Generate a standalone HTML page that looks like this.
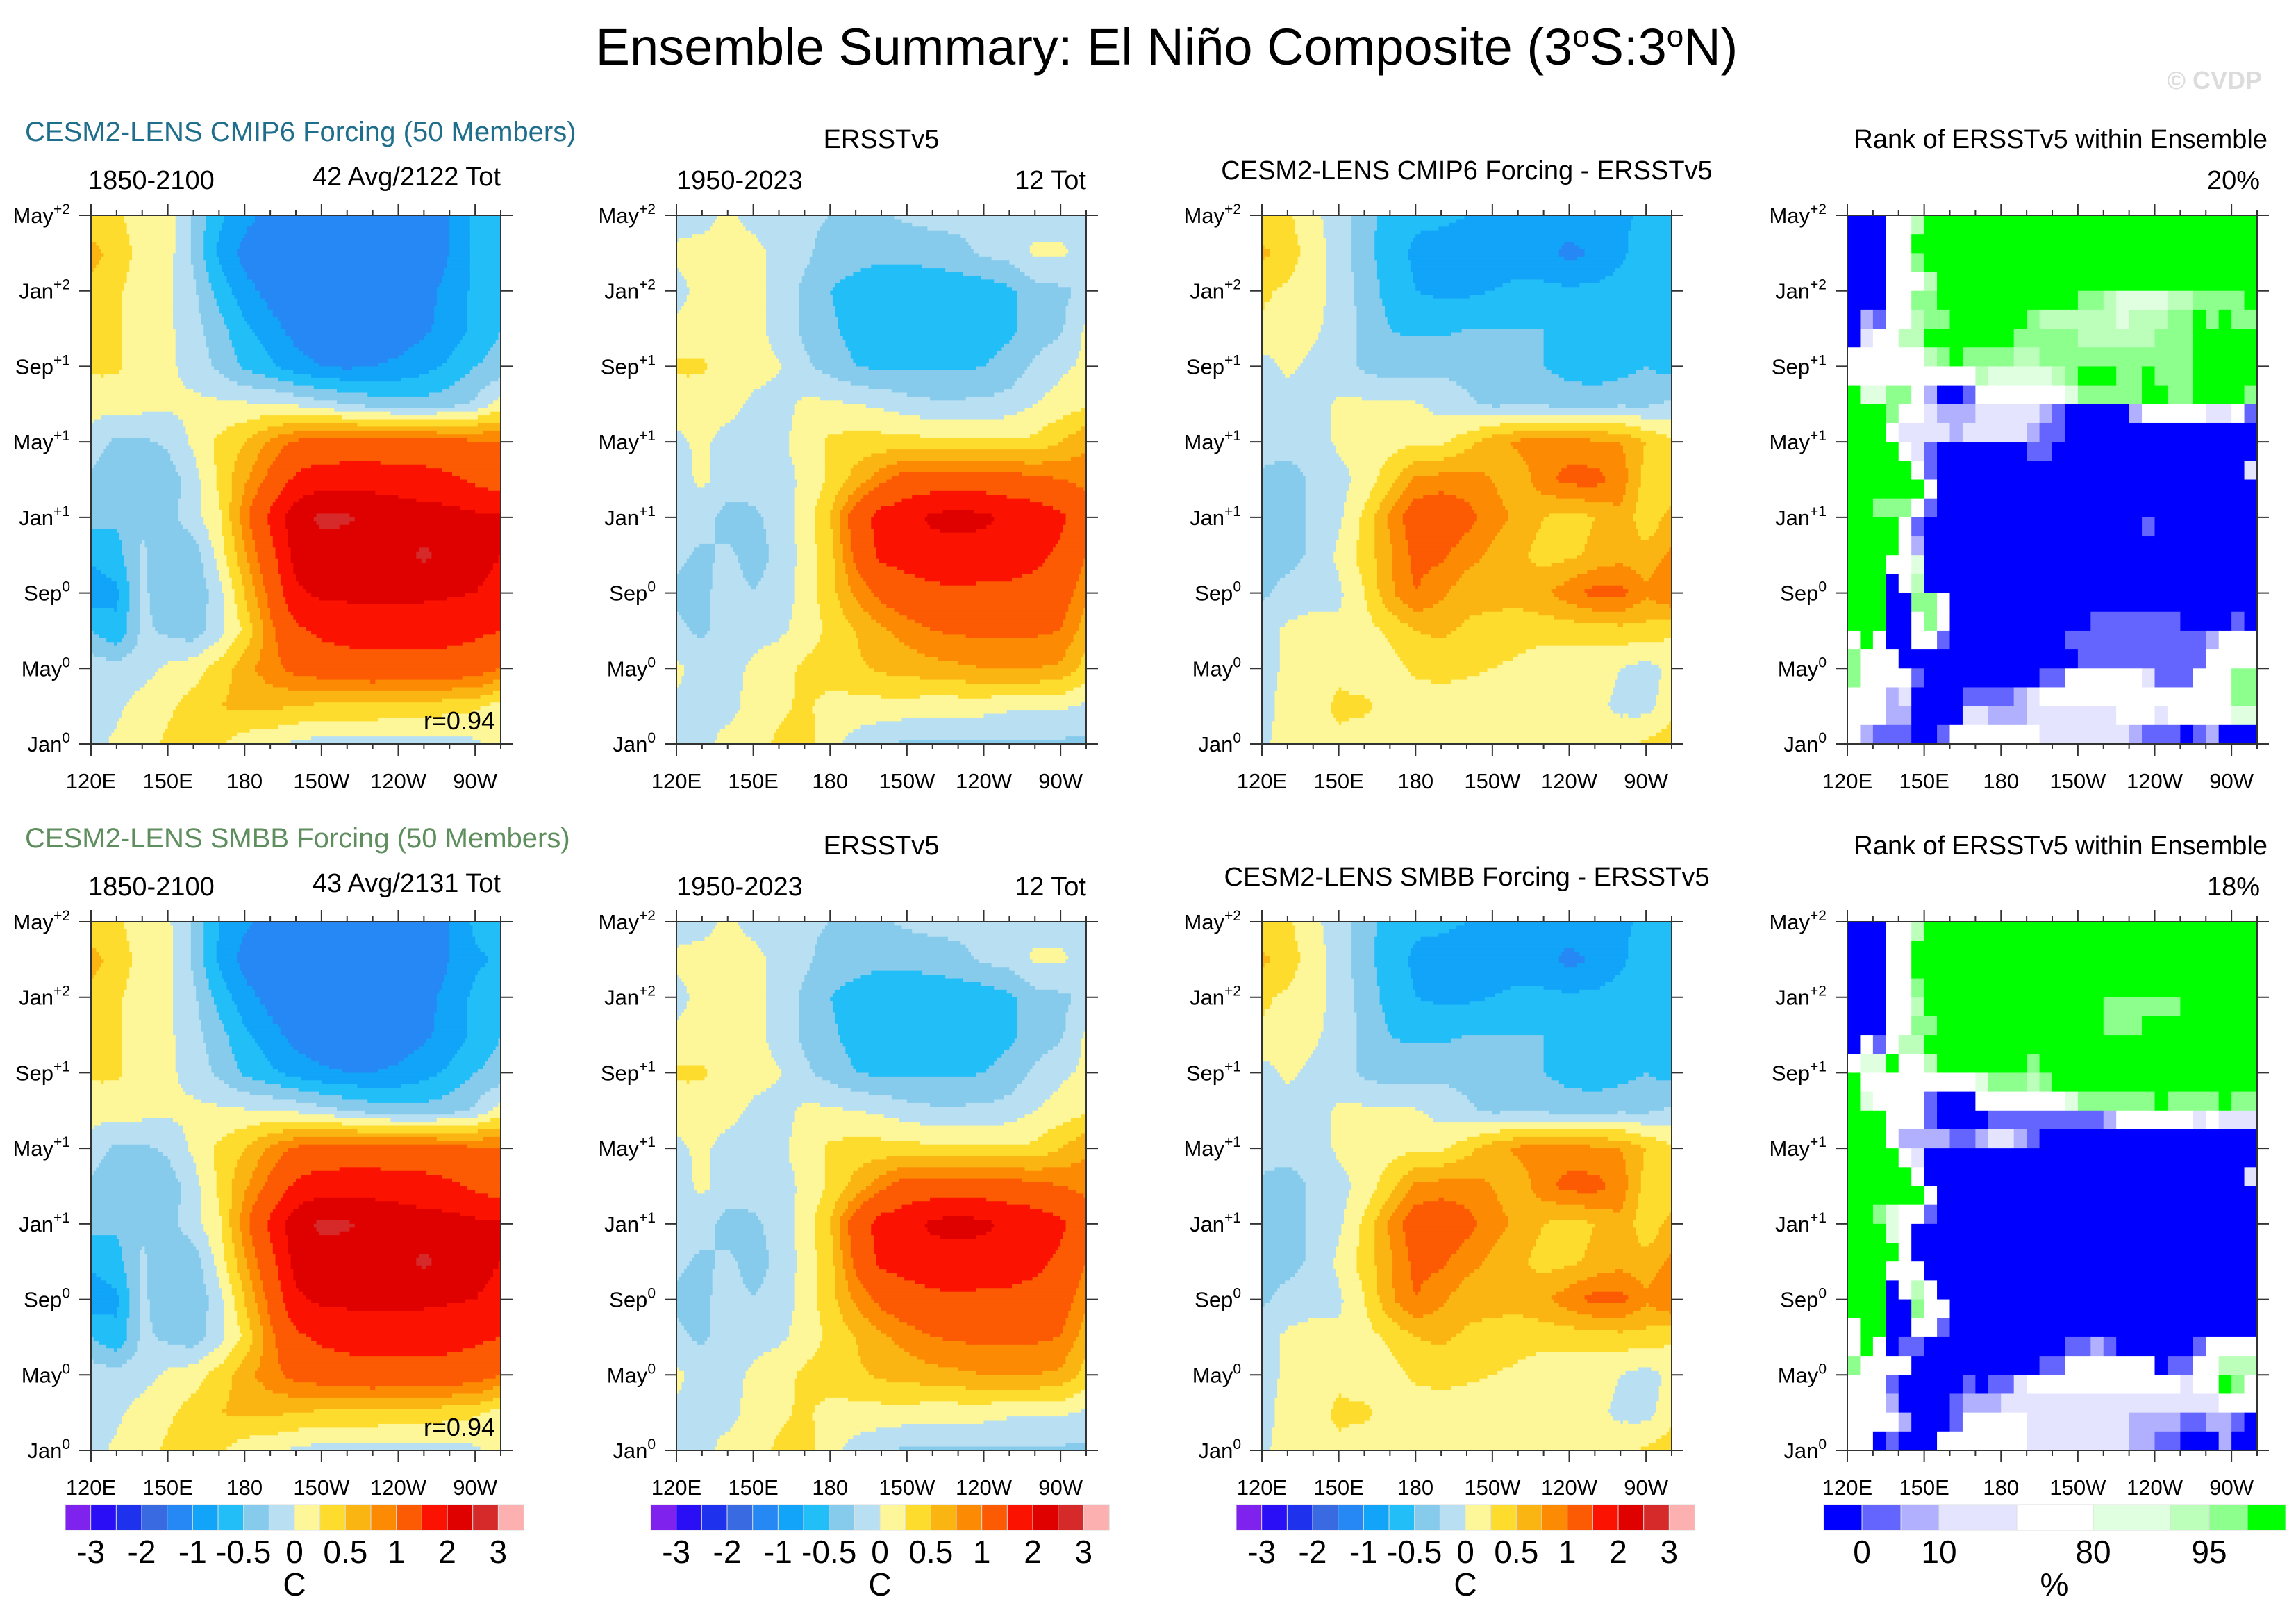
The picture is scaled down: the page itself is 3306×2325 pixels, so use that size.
<!DOCTYPE html>
<html><head><meta charset="utf-8"><title>Ensemble Summary: El Niño Composite</title>
<style>
html,body{margin:0;padding:0;background:#fff;}
svg{display:block;font-family:"Liberation Sans",Arial,sans-serif;}
</style></head>
<body>
<svg id="fig" xmlns="http://www.w3.org/2000/svg" width="3306" height="2325" viewBox="0 0 3306 2325">
<rect x="0" y="0" width="3306" height="2325" fill="#fff"/>
<text x="1680" y="93" font-size="74" text-anchor="middle">Ensemble Summary: El Niño Composite (3<tspan dy="-26" font-size="44">o</tspan><tspan dy="26">S:3</tspan><tspan dy="-26" font-size="44">o</tspan><tspan dy="26">N)</tspan></text>
<text x="3257" y="128" font-size="36" text-anchor="end" fill="#dcdcdc" font-weight="bold">© CVDP</text>
<g id="content"></g>
</svg>
<script>
// ---------- data ----------
const lons = [120,130,140,150,160,170,180,190,200,210,220,230,240,250,260,270,280];
const tRows = [28,26,24,22,20,18,16,14,12,10,8,6,4,2,0];
const levels = [-3,-2.5,-2,-1.5,-1,-0.75,-0.5,-0.25,0,0.25,0.5,0.75,1,1.5,2,2.5,3];
const levelLabels = ["-3","","-2","","-1","","-0.5","","0","","0.5","","1","","2","","3"];
const levelColors = ["#7F22EE","#2A0EF6","#1E32EE","#3A6AE2","#2688F4","#11A4F8","#22BEF8","#86CAEC","#B8E0F2","#FDF799","#FEDC2E","#FBB513","#FC8A03","#FC5A03","#FC1200","#DF0000","#D62A2A","#FCB0B0"];
const xTickLabels = ["120E","150E","180","150W","120W","90W"];
const xTickLons = [120,150,180,210,240,270];
const yTickMonths = [0,4,8,12,16,20,24,28];
const yTickNames = ["Jan","May","Sep","Jan","May","Sep","Jan","May"];
const yTickSups = ["0","0","0","+1","+1","+1","+2","+2"];

const cmip6Mean = [
[0.3,0.3,0.1,0.1,-0.3,-0.7,-0.9,-1.1,-1.3,-1.3,-1.3,-1.3,-1.3,-1.25,-1.0,-0.7,-0.6],
[0.6,0.4,0.15,0.1,-0.3,-0.8,-1.1,-1.3,-1.4,-1.4,-1.4,-1.4,-1.4,-1.3,-1.0,-0.7,-0.7],
[0.4,0.3,0.1,0.05,-0.2,-0.6,-0.9,-1.1,-1.3,-1.4,-1.4,-1.4,-1.3,-1.1,-0.9,-0.7,-0.6],
[0.4,0.3,0.1,0.05,-0.15,-0.4,-0.7,-0.9,-1.1,-1.2,-1.25,-1.2,-1.15,-1.05,-0.9,-0.7,-0.5],
[0.3,0.3,0.1,0.05,-0.1,-0.3,-0.55,-0.7,-0.9,-1.0,-1.05,-1.0,-0.95,-0.85,-0.7,-0.5,-0.4],
[0.1,0.1,0.1,0.05,0.05,0.05,0.03,0.02,-0.05,-0.15,-0.25,-0.35,-0.4,-0.4,-0.35,-0.2,0.1],
[-0.1,-0.3,-0.3,-0.2,0.05,0.3,0.5,0.8,1.05,1.1,1.15,1.15,1.15,1.15,1.1,1.05,1.0],
[-0.3,-0.45,-0.4,-0.4,-0.1,0.3,0.7,1.1,1.6,1.8,1.8,1.8,1.75,1.7,1.6,1.4,1.2],
[-0.4,-0.45,-0.3,-0.35,-0.1,0.2,0.9,1.6,2.3,2.6,2.55,2.4,2.3,2.2,2.2,2.1,2.1],
[-0.7,-0.6,-0.2,-0.45,-0.4,0.1,0.7,1.3,2.2,2.3,2.3,2.2,2.3,2.6,2.3,2.1,2.0],
[-0.9,-0.8,-0.2,-0.4,-0.45,-0.1,0.5,1.1,1.9,2.1,2.1,2.1,2.1,2.1,2.05,2.0,1.9],
[-0.5,-0.7,-0.2,-0.3,-0.4,-0.1,0.3,0.9,1.4,1.6,1.7,1.7,1.7,1.7,1.7,1.6,1.5],
[-0.1,-0.15,-0.1,0.05,0.15,0.35,0.65,0.9,1.1,1.2,1.25,1.3,1.3,1.3,1.25,1.2,1.0],
[-0.1,-0.05,0.1,0.2,0.35,0.5,0.55,0.55,0.5,0.45,0.45,0.45,0.4,0.4,0.35,0.3,0.15],
[-0.1,0.05,0.15,0.3,0.4,0.3,0.1,0.05,-0.05,-0.1,-0.1,-0.1,-0.1,-0.1,-0.1,-0.05,0.1]
];
const ersstComp = [
[-0.1,-0.1,0.05,-0.1,-0.15,-0.2,-0.25,-0.3,-0.28,-0.2,-0.15,-0.15,-0.1,-0.1,-0.1,-0.1,-0.1],
[0.05,0.1,0.15,0.1,-0.1,-0.2,-0.35,-0.4,-0.45,-0.45,-0.4,-0.35,-0.2,-0.15,0.05,0.05,-0.1],
[-0.1,0.1,0.1,0.1,-0.1,-0.3,-0.5,-0.6,-0.65,-0.65,-0.65,-0.65,-0.65,-0.55,-0.35,-0.3,-0.2],
[0.05,0.1,0.1,0.1,-0.1,-0.3,-0.45,-0.6,-0.7,-0.75,-0.7,-0.7,-0.65,-0.55,-0.4,-0.3,0.05],
[0.3,0.3,0.1,0.1,0.02,-0.2,-0.35,-0.5,-0.55,-0.55,-0.55,-0.55,-0.5,-0.4,-0.2,-0.05,0.05],
[0.1,0.1,0.1,-0.05,-0.1,0.05,0.05,0.0,-0.05,-0.15,-0.2,-0.2,-0.2,-0.15,0.0,0.1,0.2],
[-0.05,0.05,-0.1,-0.1,-0.05,0.1,0.3,0.35,0.35,0.35,0.3,0.3,0.3,0.3,0.3,0.5,0.7],
[-0.1,0.05,-0.1,-0.15,-0.1,0.05,0.3,0.6,0.9,1.2,1.2,1.2,1.2,1.15,1.1,1.0,0.9],
[-0.1,-0.15,-0.35,-0.3,-0.15,0.1,0.5,1.2,1.7,1.8,2.1,2.2,2.1,1.9,1.8,1.6,1.2],
[-0.2,-0.3,-0.2,-0.35,-0.2,0.1,0.4,1.1,1.6,1.7,1.75,1.75,1.75,1.7,1.65,1.4,1.0],
[-0.3,-0.3,-0.15,-0.25,-0.15,0.1,0.4,0.8,1.1,1.3,1.4,1.45,1.4,1.4,1.3,1.2,0.8],
[-0.2,-0.3,-0.1,-0.1,-0.05,0.1,0.3,0.5,0.7,0.85,1.0,1.05,1.05,1.05,1.05,1.0,0.6],
[0.05,-0.1,-0.1,0.05,0.15,0.3,0.4,0.45,0.55,0.6,0.65,0.7,0.75,0.75,0.75,0.7,0.4],
[-0.05,-0.05,-0.1,0.1,0.2,0.3,0.15,0.15,0.15,0.15,0.1,0.1,0.1,0.05,0.05,0.05,-0.05],
[-0.1,-0.1,0.1,0.15,0.3,0.35,0.1,-0.1,-0.2,-0.3,-0.3,-0.3,-0.3,-0.3,-0.3,-0.3,-0.3]
];
const cmip6Diff = [
[0.3,0.3,0.05,-0.1,-0.4,-0.6,-0.7,-0.7,-0.75,-0.8,-0.8,-0.8,-0.8,-0.8,-0.8,-0.7,-0.6],
[0.55,0.4,0.1,-0.1,-0.4,-0.65,-0.8,-0.85,-0.85,-0.85,-0.85,-0.9,-1.1,-0.95,-0.8,-0.6,-0.5],
[0.3,0.2,0.1,-0.1,-0.35,-0.6,-0.75,-0.8,-0.8,-0.75,-0.7,-0.7,-0.7,-0.7,-0.65,-0.6,-0.6],
[0.2,0.1,0.05,-0.1,-0.3,-0.5,-0.55,-0.55,-0.5,-0.5,-0.5,-0.5,-0.6,-0.6,-0.6,-0.5,-0.7],
[-0.1,0.05,-0.05,-0.15,-0.3,-0.4,-0.35,-0.3,-0.35,-0.45,-0.45,-0.5,-0.6,-0.65,-0.6,-0.5,-0.6],
[-0.1,-0.1,-0.15,0.05,0.05,0.05,0.02,-0.1,-0.2,-0.3,-0.3,-0.3,-0.35,-0.35,-0.3,-0.3,-0.2],
[-0.15,-0.1,-0.15,0.05,0.1,0.15,0.2,0.2,0.4,0.65,0.8,0.85,0.85,0.8,0.75,0.5,0.3],
[-0.3,-0.4,-0.2,-0.1,0.1,0.4,0.8,0.85,0.85,0.75,0.6,0.9,1.1,1.1,0.9,0.4,0.3],
[-0.3,-0.35,-0.2,-0.05,0.3,0.8,1.2,1.3,1.1,0.85,0.7,0.5,0.4,0.5,0.7,0.3,0.6],
[-0.4,-0.35,-0.2,0.05,0.35,0.7,1.1,1.05,0.85,0.7,0.55,0.4,0.45,0.55,0.65,0.6,0.8],
[-0.3,-0.15,-0.1,-0.05,0.25,0.7,1.0,0.8,0.6,0.6,0.6,0.7,0.9,1.1,1.1,0.8,1.0],
[-0.1,0.05,0.1,0.05,0.15,0.3,0.5,0.55,0.45,0.4,0.35,0.35,0.35,0.35,0.4,0.4,0.3],
[-0.1,0.05,0.1,0.2,0.1,0.15,0.3,0.35,0.3,0.25,0.2,0.1,0.1,0.1,0.0,-0.1,0.05],
[-0.1,0.1,0.15,0.3,0.3,0.15,0.1,0.1,0.1,0.1,0.1,0.1,0.1,0.05,-0.05,-0.1,0.15],
[-0.05,0.1,0.15,0.2,0.1,0.1,0.1,0.1,0.1,0.1,0.1,0.1,0.1,0.1,0.15,0.3,0.4]
];
const smbbMean = [
[0.3,0.3,0.1,0.05,-0.3,-0.75,-0.95,-1.1,-1.3,-1.3,-1.3,-1.3,-1.3,-1.25,-1.0,-0.7,-0.6],
[0.6,0.4,0.15,0.1,-0.3,-0.8,-1.1,-1.3,-1.4,-1.4,-1.4,-1.4,-1.35,-1.3,-1.0,-0.8,-0.7],
[0.4,0.3,0.1,0.05,-0.2,-0.6,-0.9,-1.1,-1.3,-1.35,-1.35,-1.35,-1.3,-1.1,-0.9,-0.7,-0.6],
[0.4,0.3,0.1,0.05,-0.15,-0.4,-0.7,-0.9,-1.1,-1.2,-1.2,-1.2,-1.15,-1.05,-0.9,-0.7,-0.5],
[0.3,0.3,0.1,0.05,-0.1,-0.3,-0.55,-0.7,-0.85,-0.95,-1.0,-1.0,-0.95,-0.85,-0.7,-0.5,-0.4],
[0.1,0.1,0.1,0.05,0.05,0.05,0.03,0.0,-0.05,-0.15,-0.25,-0.35,-0.4,-0.4,-0.35,-0.2,0.1],
[-0.1,-0.3,-0.3,-0.2,0.05,0.3,0.5,0.8,1.05,1.1,1.15,1.15,1.15,1.15,1.1,1.05,1.0],
[-0.3,-0.45,-0.4,-0.4,-0.1,0.3,0.7,1.1,1.6,1.8,1.8,1.8,1.75,1.7,1.6,1.4,1.2],
[-0.4,-0.45,-0.3,-0.35,-0.1,0.2,0.9,1.6,2.3,2.6,2.55,2.4,2.3,2.2,2.2,2.1,2.1],
[-0.7,-0.6,-0.2,-0.45,-0.4,0.1,0.7,1.3,2.2,2.3,2.3,2.2,2.3,2.6,2.3,2.1,2.0],
[-0.9,-0.8,-0.2,-0.4,-0.45,-0.1,0.5,1.1,1.9,2.1,2.1,2.1,2.1,2.1,2.05,2.0,1.9],
[-0.5,-0.7,-0.2,-0.3,-0.4,-0.1,0.3,0.9,1.4,1.6,1.7,1.7,1.7,1.7,1.7,1.6,1.5],
[-0.1,-0.15,-0.1,0.05,0.15,0.35,0.65,0.9,1.1,1.2,1.25,1.3,1.3,1.3,1.25,1.2,1.0],
[-0.1,-0.05,0.1,0.2,0.35,0.5,0.55,0.55,0.5,0.45,0.45,0.45,0.4,0.4,0.35,0.3,0.15],
[-0.1,0.05,0.15,0.3,0.4,0.3,0.1,0.05,-0.05,-0.1,-0.1,-0.1,-0.1,-0.1,-0.1,-0.05,0.1]
];
const ersstComp2 = ersstComp.map(r => r.slice());
const smbbDiff = [
[0.3,0.3,0.05,-0.1,-0.4,-0.6,-0.7,-0.7,-0.75,-0.8,-0.8,-0.8,-0.8,-0.8,-0.8,-0.7,-0.6],
[0.55,0.4,0.1,-0.1,-0.4,-0.65,-0.8,-0.85,-0.85,-0.85,-0.85,-0.9,-1.1,-0.95,-0.8,-0.6,-0.5],
[0.3,0.2,0.1,-0.1,-0.35,-0.6,-0.75,-0.8,-0.8,-0.75,-0.7,-0.7,-0.7,-0.7,-0.65,-0.6,-0.6],
[0.2,0.1,0.05,-0.1,-0.3,-0.5,-0.55,-0.55,-0.5,-0.5,-0.5,-0.5,-0.6,-0.6,-0.6,-0.5,-0.7],
[-0.1,0.05,-0.05,-0.15,-0.3,-0.4,-0.35,-0.3,-0.35,-0.45,-0.45,-0.5,-0.6,-0.65,-0.6,-0.5,-0.6],
[-0.1,-0.1,-0.15,0.05,0.05,0.05,0.02,-0.1,-0.2,-0.3,-0.3,-0.3,-0.35,-0.35,-0.3,-0.3,-0.2],
[-0.15,-0.1,-0.15,0.05,0.1,0.15,0.2,0.2,0.4,0.65,0.8,0.85,0.85,0.8,0.75,0.5,0.3],
[-0.3,-0.4,-0.2,-0.1,0.1,0.4,0.8,0.85,0.85,0.75,0.6,0.9,1.1,1.1,0.9,0.4,0.3],
[-0.3,-0.35,-0.2,-0.05,0.3,0.8,1.2,1.3,1.1,0.85,0.7,0.5,0.4,0.5,0.7,0.3,0.6],
[-0.4,-0.35,-0.2,0.05,0.35,0.7,1.1,1.05,0.85,0.7,0.55,0.4,0.45,0.55,0.65,0.6,0.8],
[-0.3,-0.15,-0.1,-0.05,0.25,0.7,1.0,0.8,0.6,0.6,0.6,0.7,0.9,1.1,1.1,0.8,1.0],
[-0.1,0.05,0.1,0.05,0.15,0.3,0.5,0.55,0.45,0.4,0.35,0.35,0.35,0.35,0.4,0.4,0.3],
[-0.1,0.05,0.1,0.2,0.1,0.15,0.3,0.35,0.3,0.25,0.2,0.1,0.1,0.1,0.0,-0.1,0.05],
[-0.1,0.1,0.15,0.3,0.3,0.15,0.1,0.1,0.1,0.1,0.1,0.1,0.1,0.05,-0.05,-0.1,0.15],
[-0.05,0.1,0.15,0.2,0.1,0.1,0.1,0.1,0.1,0.1,0.1,0.1,0.1,0.1,0.15,0.3,0.4]
];

// rank categories per month (top row = May+2), 32 longitude bins
const rankCodes = ["B","b","p","l","w","g","h","m","G"];
const rankColors = ["#0000FF","#6464FF","#B0B0FF","#E4E4FF","#FFFFFF","#E0FFE0","#BBFFBB","#8CFF8C","#00FF00"];
const rankLegendEdges = [2626,2681,2737,2792,2904,3014,3125,3181,3236,3291];
const rankLegendLabels = ["0","10","80","95"];
const rankLegendLabelX = [2681,2792,3014,3181];
const rankCmip6 = [
"BBBwwhGGGGGGGGGGGGGGGGGGGGGGGGGG",
"BBBwwGGGGGGGGGGGGGGGGGGGGGGGGGGG",
"BBBwwmGGGGGGGGGGGGGGGGGGGGGGGGGG",
"BBBwwwhGGGGGGGGGGGGGGGGGGGGGGGGG",
"BBBwwmmGGGGGGGGGGGmmhgggghhmmmmG",
"BpbwwhmmGGGGGGmhhhhhhghhhmmGmGmm",
"BlwwhhGGGGGGGmmmmmhhhhhhmmmGGGGG",
"wwwwwwhmGmmmmhhmmmmmmmmmmmmGGGGG",
"wwwwwwwwwwhggggghmGGGmmGmmmGGGGG",
"GggmmwpBBbwwwwwwwgmmmmmGGmmGGGGm",
"GGGmwwlppplllllpbBBBBBpwwwwwllwbb".slice(0,32),
"GGGwllllplllllpbbBBBBBBBBBBBBBBB",
"GGGGwlbBBBBBBBbbBBBBBBBBBBBBBBBB",
"GGGGGwbBBBBBBBBBBBBBBBBBBBBBBBBl",
"GGGGGGwBBBBBBBBBBBBBBBBBBBBBBBBB",
"GGmmmwbBBBBBBBBBBBBBBBBBBBBBBBBB",
"GGGGwbBBBBBBBBBBBBBBBBBbBBBBBBBB",
"GGGGwpBBBBBBBBBBBBBBBBBBBBBBBBBB",
"GGGwwgBBBBBBBBBBBBBBBBBBBBBBBBBB",
"GGGBwhBBBBBBBBBBBBBBBBBBBBBBBBBB",
"GGGBBmmwBBBBBBBBBBBBBBBBBBBBBBBB",
"GGGBBwmwBBBBBBBBBBBbbbbbbbBBBBbB",
"wGwBBwwbBBBBBBBBBbbbbbbbbbbbpwww",
"mwwwBBBBBBBBBBBBBBbbbbbbbbbbwwww",
"mwwwwbBBBBBBBBBbbwwwwwwlbbbwwwmm",
"wwwplBBBBbbbbplwwwwwwwwwwwwwwwmm",
"wwwppBBBBllppplllllllwwwlwwwwwgg",
"wpbbbBBbwwwwwwwlllllllpbbbBbpBBB"
];
const rankSmbb = [
"BBBwwhGGGGGGGGGGGGGGGGGGGGGGGGGG",
"BBBwwGGGGGGGGGGGGGGGGGGGGGGGGGGG",
"BBBwwGGGGGGGGGGGGGGGGGGGGGGGGGGG",
"BBBwwmGGGGGGGGGGGGGGGGGGGGGGGGGG",
"BBBwwhGGGGGGGGGGGGGGmmmmmmGGGGGG",
"BBBwwmmGGGGGGGGGGGGGmmmGGGGGGGGG",
"BwbwhhGGGGGGGGGGGGGGGGGGGGGGGGGG",
"wggGwwhGGGGGGGmGGGGGGGGGGGGGGGGG",
"GwwwwwwwwwgmmmhmGGGGGGGGGGGGGGGG",
"GgwwwwbBBBwwwwwwwgmmmmmmGmmmmGmm",
"GGGwwwbBBBBbbbbbbbbbpwwwwwwlwll",
"GGGwppppbbpllpbBBBBBBBBBBBBBBBBB",
"GGGGwlBBBBBBBBBBBBBBBBBBBBBBBBBB",
"GGGGGwBBBBBBBBBBBBBBBBBBBBBBBBBl",
"GGGGGGwBBBBBBBBBBBBBBBBBBBBBBBBB",
"GGmgwwbBBBBBBBBBBBBBBBBBBBBBBBBB",
"GGGgwBBBBBBBBBBBBBBBBBBBBBBBBBBB",
"GGGGwBBBBBBBBBBBBBBBBBBBBBBBBBBB",
"GGGwwwBBBBBBBBBBBBBBBBBBBBBBBBBB",
"GGGBwhwBBBBBBBBBBBBBBBBBBBBBBBBB",
"GGGBBmwwBBBBBBBBBBBBBBBBBBBBBBBB",
"wGGBBwwbBBBBBBBBBBBBBBBBBBBBBBBB",
"wGwBbbBBBBBBBBBBBbbpbBBBBBBbwwww",
"mwwwwBBBBBBBBBBbbwwwwwwwBbbwwhhh",
"wwwbBBBBBbBbblwwwwwwwwwwwwlwwGmw",
"wwwpBBBBbppplllllllllllllllllwww",
"wwwwpBBBbwwwwwllllllllppppbbppbB",
"wwBbBBBwwwwwwwllllllllppbbBBBpBB"
];

// ---------- layout ----------
const PX = [131, 974, 1817, 2660];
const PY = [310, 1327];
const W = 590, H = 761;
const NS = "http://www.w3.org/2000/svg";
const root = document.getElementById('content');

function el(tag, attrs, parent) {
  const e = document.createElementNS(NS, tag);
  for (const k in attrs) e.setAttribute(k, attrs[k]);
  (parent || root).appendChild(e);
  return e;
}
function xScale(px, lon) { return px + (lon - 120) / 160 * W; }
function yScale(py, m) { return py + H - m / 28 * H; }
function colorFor(v) {
  let i = 0;
  while (i < levels.length && v >= levels[i]) i++;
  return levelColors[i];
}
function sample(grid, lon, m) {
  const fx = (lon - lons[0]) / (lons[1] - lons[0]);
  const fy = (tRows[0] - m) / (tRows[0] - tRows[1]);
  const i0 = Math.max(0, Math.min(lons.length - 2, Math.floor(fx)));
  const j0 = Math.max(0, Math.min(tRows.length - 2, Math.floor(fy)));
  const ax = fx - i0, ay = fy - j0;
  const v00 = grid[j0][i0], v01 = grid[j0][i0 + 1], v10 = grid[j0 + 1][i0], v11 = grid[j0 + 1][i0 + 1];
  return (v00 * (1 - ax) + v01 * ax) * (1 - ay) + (v10 * (1 - ax) + v11 * ax) * ay;
}

function drawContourPanel(grid, px, py, name) {
  const g = el('g', {});
  
  
  const NXs = 160, NYs = 140;
  for (let j = 0; j < NYs; j++) {
    const m1 = 28 - j * 28 / NYs, m0 = 28 - (j + 1) * 28 / NYs;
    const mc = (m0 + m1) / 2;
    let runStart = 0, runCol = null;
    for (let i = 0; i <= NXs; i++) {
      let c = null;
      if (i < NXs) {
        const lon = 120 + (i + 0.5) * 160 / NXs;
        c = colorFor(sample(grid, lon, mc));
      }
      if (c !== runCol) {
        if (runCol !== null) {
          const x0 = xScale(px, 120 + runStart * 160 / NXs), x1 = xScale(px, 120 + i * 160 / NXs);
          const y0 = yScale(py, m1), y1 = yScale(py, m0);
          const r = el('rect', {x: x0.toFixed(2), y: y0.toFixed(2), width: (x1 - x0 + 0.6).toFixed(2), height: (y1 - y0 + 0.6).toFixed(2), fill: runCol}, g);
          
          
        }
        runStart = i; runCol = c;
      }
    }
  }
}

function drawRankPanel(rows, px, py, name) {
  const g = el('g', {});
  
  
  const nr = rows.length, nc = 32;
  for (let j = 0; j < nr; j++) {
    const row = rows[j].padEnd(nc, rows[j][rows[j].length - 1]);
    let start = 0;
    for (let i = 1; i <= nc; i++) {
      if (i === nc || row[i] !== row[start]) {
        const idx = rankCodes.indexOf(row[start]);
        const x0 = xScale(px, 120 + start * 160 / nc), x1 = xScale(px, 120 + i * 160 / nc);
        const y0 = yScale(py, 28 - j * 28 / nr), y1 = yScale(py, 28 - (j + 1) * 28 / nr);
        const r = el('rect', {x: x0.toFixed(2), y: y0.toFixed(2), width: (x1 - x0 + 0.5).toFixed(2), height: (y1 - y0 + 0.5).toFixed(2), fill: rankColors[Math.max(0, idx)]}, g);
        
        
        start = i;
      }
    }
  }
}

function drawAxes(px, py, name) {
  const g = el('g', {stroke: '#333', 'stroke-width': 2, fill: 'none'});
  
  
  const fr = el('rect', {x: px, y: py, width: W, height: H}, g);
  
  
  for (let lon = 120; lon <= 280; lon += 10) {
    const x = xScale(px, lon);
    const len = (lon % 30 === 0) ? 17 : 8;
    el('line', {x1: x, y1: py + H, x2: x, y2: py + H + len}, g);
    el('line', {x1: x, y1: py, x2: x, y2: py - len}, g);
  }
  yTickMonths.forEach(m => {
    const y = yScale(py, m);
    el('line', {x1: px, y1: y, x2: px - 17, y2: y}, g);
    el('line', {x1: px + W, y1: y, x2: px + W + 17, y2: y}, g);
  });
  const tg = el('g', {});
  
  
  xTickLons.forEach((lon, k) => {
    const t = el('text', {x: xScale(px, lon), y: py + H + 64, 'font-size': 31, 'text-anchor': 'middle'}, tg);
    t.textContent = xTickLabels[k];
    
    
  });
  yTickMonths.forEach((m, k) => {
    const y = yScale(py, m);
    const t = el('text', {x: px - 30, y: y + 11, 'font-size': 31, 'text-anchor': 'end'}, tg);
    
    
    const a = el('tspan', {}, t); a.textContent = yTickNames[k];
    const s = el('tspan', {dy: -13, 'font-size': 21}, t); s.textContent = yTickSups[k];
  });
}

function txt(x, y, s, size, anchor, fill, name) {
  const t = el('text', {x: x, y: y, 'font-size': size, 'text-anchor': anchor, fill: fill || '#000'});
  t.textContent = s;
  
  
  return t;
}

function drawSstColorbar(px, name) {
  const g = el('g', {});
  
  
  const x0 = px - 37, bw = 660 / 18, y0 = 2166, h = 37;
  levelColors.forEach((c, i) => {
    const r = el('rect', {x: x0 + i * bw, y: y0, width: bw + 0.3, height: h, fill: c, stroke: '#ddd', 'stroke-width': 1}, g);
    
    
  });
  levels.forEach((lv, i) => {
    if (!levelLabels[i]) return;
    const t = el('text', {x: x0 + (i + 1) * bw, y: 2250, 'font-size': 46, 'text-anchor': 'middle'}, g);
    t.textContent = levelLabels[i];
    
    
  });
  const u = el('text', {x: x0 + 9 * bw, y: 2297, 'font-size': 46, 'text-anchor': 'middle'}, g);
  u.textContent = 'C';
  
  
}

function drawRankColorbar() {
  const g = el('g', {});
  
  
  rankColors.forEach((c, i) => {
    const r = el('rect', {x: rankLegendEdges[i], y: 2166, width: rankLegendEdges[i + 1] - rankLegendEdges[i], height: 37, fill: c, stroke: '#ddd', 'stroke-width': 1}, g);
    
    
  });
  rankLegendLabels.forEach((s, i) => {
    const t = el('text', {x: rankLegendLabelX[i], y: 2250, 'font-size': 46, 'text-anchor': 'middle'}, g);
    t.textContent = s;
    
    
  });
  const u = el('text', {x: 2958, y: 2297, 'font-size': 46, 'text-anchor': 'middle'}, g);
  u.textContent = '%';
  
  
}

// ---------- draw ----------
const rowsSpec = [
  {mean: cmip6Mean, obs: ersstComp, diff: cmip6Diff, rank: rankCmip6, title: 'CESM2-LENS CMIP6 Forcing (50 Members)', tcol: '#1F6E8C', avg: '42 Avg/2122 Tot', dtitle: 'CESM2-LENS CMIP6 Forcing - ERSSTv5', pct: '20%', key: 'cmip6'},
  {mean: smbbMean, obs: ersstComp2, diff: smbbDiff, rank: rankSmbb, title: 'CESM2-LENS SMBB Forcing (50 Members)', tcol: '#5E8E5E', avg: '43 Avg/2131 Tot', dtitle: 'CESM2-LENS SMBB Forcing - ERSSTv5', pct: '18%', key: 'smbb'}
];
rowsSpec.forEach((s, r) => {
  const py = PY[r], off = py - 310;
  drawContourPanel(s.mean, PX[0], py, s.key + '-ensemble-mean-panel');
  drawContourPanel(s.obs, PX[1], py, s.key + '-ersst-panel');
  drawContourPanel(s.diff, PX[2], py, s.key + '-difference-panel');
  drawRankPanel(s.rank, PX[3], py, s.key + '-rank-panel');
  for (let k = 0; k < 4; k++) drawAxes(PX[k], py, s.key + '-panel' + (k + 1));
  txt(36, 203 + off, s.title, 40, 'start', s.tcol, s.key + '-ensemble-title');
  txt(127, 272 + off, '1850-2100', 38, 'start', '#000', s.key + '-period');
  txt(721, 267 + off, s.avg, 38, 'end', '#000', s.key + '-event-count');
  txt(PX[0] + W - 8, 1050 + off, 'r=0.94', 36, 'end', '#000', s.key + '-pattern-correlation');
  txt(PX[1] + W / 2, 213 + off, 'ERSSTv5', 38, 'middle', '#000', s.key + '-obs-title');
  txt(PX[1], 272 + off, '1950-2023', 38, 'start', '#000', s.key + '-obs-period');
  txt(PX[1] + W, 272 + off, '12 Tot', 38, 'end', '#000', s.key + '-obs-count');
  txt(PX[2] + W / 2, 258 + off, s.dtitle, 38, 'middle', '#000', s.key + '-difference-title');
  txt(3265, 213 + off, 'Rank of ERSSTv5 within Ensemble', 38, 'end', '#000', s.key + '-rank-title');
  txt(3254, 272 + off, s.pct, 38, 'end', '#000', s.key + '-rank-percent');
});
drawSstColorbar(PX[0], 'colorbar-ensemble');
drawSstColorbar(PX[1], 'colorbar-ersst');
drawSstColorbar(PX[2], 'colorbar-difference');
drawRankColorbar();
</script>
</body></html>
